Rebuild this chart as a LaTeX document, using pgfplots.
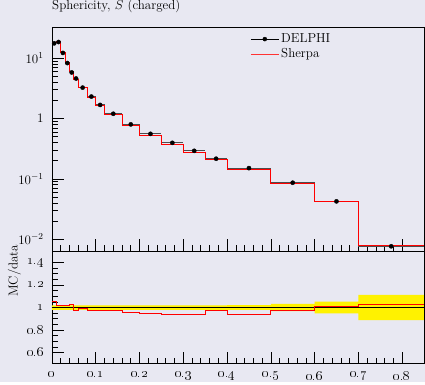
\RequirePackage{fix-cm}
\documentclass[12pt,border=0pt]{standalone}
\usepackage{pgfplots}
\pgfplotsset{compat=1.18}
\definecolor{bg}{RGB}{232,232,242}
\newcommand{\os}[1]{\oldstylenums{#1}}
\newcommand{\fs}{\fontsize{13}{15.5}\selectfont}
\pgfplotsset{
  rivet/.style={
    scale only axis, width=372pt, xmin=0, xmax=0.85,
    font=\fs,
    xtick={0,0.1,0.2,0.3,0.4,0.5,0.6,0.7,0.8}, minor x tick num=4,
    xtick pos=left, ytick pos=left, tick align=inside,
    major tick length=12pt, minor tick length=6pt,
    axis line style={line width=0.8pt},
    every tick/.style={black, line width=0.6pt},
    tick label style={font=\fs},
    label style={font=\fs},
    yticklabel style={xshift=-4pt},
    axis background/.style={fill=bg},
  }
}
\begin{document}
\fs
\begin{tikzpicture}[font=\fs]
\fill[bg] (-52pt,-131pt) rectangle (373pt,251pt);
\begin{axis}[rivet, at={(0pt,0pt)}, anchor=south west, height=224pt,
  ymode=log, ymin=0.00634, ymax=32.5,
  xticklabels={},
  ytick={0.01,0.1,1,10}, yticklabels={$10^{-2}$,$10^{-1}$,$1$,$10^{1}$},
  title={Sphericity, $S$ (charged)},
  title style={at={(axis description cs:0,1)}, anchor=base west, inner sep=0pt, yshift=11.5pt, font=\fs},
  legend style={at={(axis description cs:0.525,0.99)}, anchor=north west, draw=none, fill=none,
    cells={anchor=west}, font=\fs},
  reverse legend,
]
\addplot[forget plot, draw=none, black!70, mark=none,
  error bars/.cd, x dir=both, x explicit, error mark=none,
  error bar style={line width=1.1pt, black!70}]
  coordinates {
(0.005,17.6) +- (0.005,0)
(0.015,18.5) +- (0.005,0)
(0.025,12.2) +- (0.005,0)
(0.035,8.3) +- (0.005,0)
(0.045,5.8) +- (0.005,0)
(0.055,4.6) +- (0.005,0)
(0.07,3.25) +- (0.01,0)
(0.09,2.31) +- (0.01,0)
(0.11,1.68) +- (0.01,0)
(0.14,1.2) +- (0.02,0)
(0.18,0.80) +- (0.02,0)
(0.225,0.558) +- (0.025,0)
(0.275,0.396) +- (0.025,0)
(0.325,0.292) +- (0.025,0)
(0.375,0.216) +- (0.025,0)
(0.45,0.151) +- (0.05,0)
(0.55,0.0865) +- (0.05,0)
(0.65,0.0425) +- (0.05,0)
(0.775,0.00766) +- (0.075,0)
};
\addplot[red, line width=0.9pt, const plot mark left,
  legend image code/.code={\draw[red!80, line width=0.7pt] (0pt,0pt) -- (28pt,0pt);}]
  coordinates {
(0,18.48)(0.01,18.76)(0.02,12.37)(0.03,8.42)(0.04,5.96)(0.05,4.49)(0.06,3.22)(0.08,2.25)
(0.10,1.63)(0.12,1.164)(0.16,0.764)(0.20,0.528)(0.25,0.372)(0.30,0.274)(0.35,0.2095)
(0.40,0.142)(0.50,0.0839)(0.60,0.0427)(0.70,0.00787)(0.85,0.00787)};
\addlegendentry{Sherpa}
\addplot[black, only marks, mark=*, mark size=2.1pt,
  legend image code/.code={\draw[black, line width=0.7pt] (0pt,0pt) -- (28pt,0pt); \fill[black] (14pt,0pt) circle (2pt);}]
  coordinates {
(0.005,17.6)(0.015,18.5)(0.025,12.2)(0.035,8.3)(0.045,5.8)(0.055,4.6)(0.07,3.25)(0.09,2.31)
(0.11,1.68)(0.14,1.2)(0.18,0.80)(0.225,0.558)(0.275,0.396)(0.325,0.292)(0.375,0.216)
(0.45,0.151)(0.55,0.0865)(0.65,0.0425)(0.775,0.00766)};
\addlegendentry{DELPHI}
\end{axis}
\begin{axis}[rivet, at={(0pt,0pt)}, anchor=north west, height=112.5pt,
  ymin=0.5, ymax=1.5,
  xticklabels={\os{0},\os{0.1},\os{0.2},\os{0.3},\os{0.4},\os{0.5},\os{0.6},\os{0.7},\os{0.8}},
  xticklabel style={yshift=-4pt},
  ytick={0.6,0.8,1,1.2,1.4}, yticklabels={\os{0.6},\os{0.8},\os{1},\os{1.2},\os{1.4}},
  minor y tick num=3,
  ylabel={MC/data},
  ylabel style={at={(axis description cs:-0.0833,1.06)}, anchor=south east, inner sep=0pt, font=\fs},
]
\addplot[fill=yellow, draw=none] coordinates {
(0,1.02)(0.4,1.02)(0.4,1.022)(0.5,1.022)(0.5,1.033)(0.6,1.033)(0.6,1.053)(0.7,1.053)
(0.7,1.113)(0.85,1.113)(0.85,0.887)(0.7,0.887)(0.7,0.947)(0.6,0.947)(0.6,0.967)(0.5,0.967)
(0.5,0.978)(0.4,0.978)(0.4,0.98)(0,0.98)} -- cycle;
\addplot[black, line width=0.8pt] coordinates {(0,1)(0.85,1)};
\addplot[red, line width=0.9pt, const plot mark left] coordinates {
(0,1.05)(0.01,1.014)(0.02,1.014)(0.03,1.014)(0.04,1.027)(0.05,0.976)(0.06,0.99)(0.08,0.976)
(0.10,0.97)(0.12,0.97)(0.16,0.955)(0.20,0.947)(0.25,0.94)(0.30,0.94)(0.35,0.97)(0.40,0.94)
(0.50,0.97)(0.60,1.005)(0.70,1.027)(0.85,1.027)};
\end{axis}
\end{tikzpicture}
\end{document}
